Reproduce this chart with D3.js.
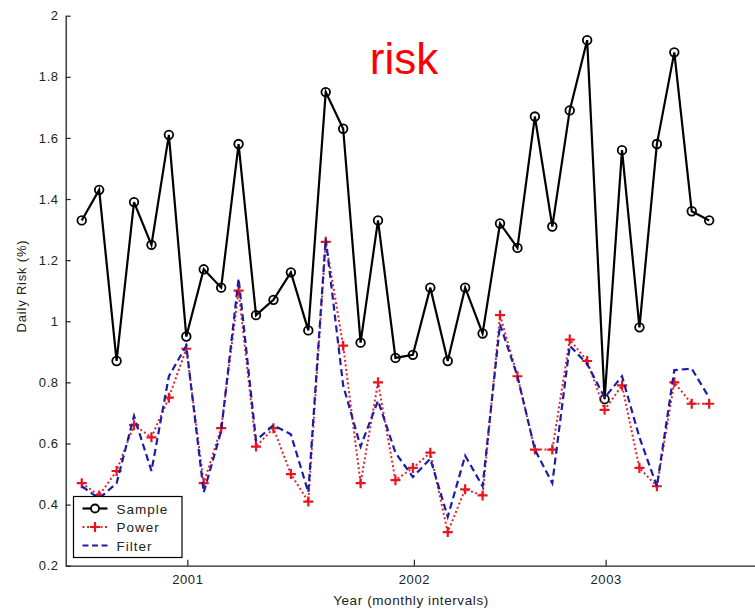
<!DOCTYPE html>
<html>
<head>
<meta charset="utf-8">
<script src="https://cdn.jsdelivr.net/npm/d3@7"></script>
<style>
  body { margin: 0; background: #fff; }
  text { font-family: "Liberation Sans", Arial, sans-serif; }
</style>
</head>
<body>
<div id="chart"></div>
<script>
//Data (one value per month)
var sample = [1.33, 1.43, 0.87, 1.39, 1.25, 1.61, 0.95, 1.17, 1.11, 1.58, 1.02, 1.07, 1.16, 0.97,
              1.75, 1.63, 0.93, 1.33, 0.88, 0.89, 1.11, 0.87, 1.11, 0.96, 1.32, 1.24, 1.67, 1.31,
              1.69, 1.92, 0.745, 1.56, 0.98, 1.58, 1.88, 1.36, 1.33];
var power = [0.47, 0.43, 0.51, 0.66, 0.62, 0.75, 0.91, 0.47, 0.65, 1.10, 0.59, 0.65, 0.50, 0.41,
             1.26, 0.92, 0.47, 0.80, 0.48, 0.52, 0.57, 0.31, 0.45, 0.43, 1.02, 0.82, 0.58, 0.58,
             0.94, 0.87, 0.71, 0.79, 0.52, 0.46, 0.80, 0.73, 0.73];
var filter = [0.46, 0.42, 0.47, 0.69, 0.51, 0.82, 0.92, 0.44, 0.64, 1.14, 0.61, 0.66, 0.63, 0.44,
              1.27, 0.79, 0.59, 0.74, 0.57, 0.49, 0.55, 0.36, 0.56, 0.46, 0.99, 0.82, 0.58, 0.47,
              0.92, 0.86, 0.75, 0.82, 0.62, 0.46, 0.84, 0.845, 0.75];
var yearTicks = [6.06, 19.06, 30.06];
var yearLabels = ["2001", "2002", "2003"];
var yTicks = [0.2, 0.4, 0.6, 0.8, 1, 1.2, 1.4, 1.6, 1.8, 2];
var seriesNames = ["Sample", "Power", "Filter"];

var width = 755, height = 610;
var svg = d3.select("#chart").append("svg")
  .attr("width", width).attr("height", height);

var x = d3.scaleLinear().domain([-0.92, 38.63]).range([65.7, 755]);
var y = d3.scaleLinear().domain([0.2, 2]).range([565.7, 15.7]);

//Axes (ticks point inward like matlab)
var yAxis = d3.axisLeft(y).tickValues(yTicks).tickSizeInner(-5).tickSizeOuter(0)
  .tickPadding(7).tickFormat(d3.format("~g"));
var gy = svg.append("g").attr("transform", "translate(" + x.range()[0] + ",0)").call(yAxis);

var xAxis = d3.axisBottom(x).tickValues(yearTicks).tickSizeInner(-6).tickSizeOuter(0)
  .tickPadding(9).tickFormat(function(d, i) { return yearLabels[i]; });
var gx = svg.append("g").attr("transform", "translate(0," + y.range()[0] + ")").call(xAxis);

[gx, gy].forEach(function(g) {
  g.select(".domain").attr("stroke", "#222").attr("stroke-width", 1.3);
  g.selectAll(".tick line").attr("stroke", "#222").attr("stroke-width", 1.2);
  g.selectAll("text").attr("font-size", 13).attr("fill", "#222")
    .attr("letter-spacing", 0.6)
    .attr("font-family", "Liberation Sans, Arial, sans-serif");
});

//Axis titles
svg.append("text")
  .attr("x", 411).attr("y", 605)
  .attr("text-anchor", "middle").attr("font-size", 13.5).attr("fill", "#222")
  .attr("letter-spacing", 0.6)
  .text("Year (monthly intervals)");
svg.append("text")
  .attr("transform", "translate(26,286) rotate(-90)")
  .attr("text-anchor", "middle").attr("font-size", 13).attr("fill", "#222")
  .attr("letter-spacing", 0.8)
  .text("Daily Risk  (%)");
svg.append("text")
  .attr("x", 404).attr("y", 74)
  .attr("text-anchor", "middle").attr("font-size", 44).attr("fill", "#ff0000")
  .text("risk");

var line = d3.line()
  .x(function(d, i) { return x(i); })
  .y(function(d) { return y(d); });

//Sample
svg.append("path").datum(sample)
  .attr("d", line).attr("fill", "none")
  .attr("stroke", "#000").attr("stroke-width", 2.2);
svg.append("g").selectAll("circle")
  .data(sample).enter().append("circle")
  .attr("cx", function(d, i) { return x(i); })
  .attr("cy", function(d) { return y(d); })
  .attr("r", 4.3)
  .attr("fill", "none").attr("stroke", "#000").attr("stroke-width", 1.8);

//Power
svg.append("path").datum(power)
  .attr("d", line).attr("fill", "none")
  .attr("stroke", "#d8262a").attr("stroke-width", 2)
  .attr("stroke-dasharray", "2,2.5");
svg.append("g").selectAll("path")
  .data(power).enter().append("path")
  .attr("transform", function(d, i) { return "translate(" + x(i) + "," + y(d) + ")"; })
  .attr("d", "M-5,0H5M0,-5V5")
  .attr("stroke", "#e8141e").attr("stroke-width", 2.2);

//Filter
svg.append("path").datum(filter)
  .attr("d", line).attr("fill", "none")
  .attr("stroke", "#1c1ca6").attr("stroke-width", 2.2)
  .attr("stroke-dasharray", "7,4");

//Legend
var lg = svg.append("g").attr("transform", "translate(73.5,496.5)");
lg.append("rect").attr("width", 108.5).attr("height", 61)
  .attr("fill", "#fff").attr("stroke", "#000").attr("stroke-width", 1.2);
var rowY = [12, 30.5, 49];
lg.append("line").attr("x1", 9).attr("x2", 34).attr("y1", rowY[0]).attr("y2", rowY[0])
  .attr("stroke", "#000").attr("stroke-width", 2.2);
lg.append("circle").attr("cx", 21.5).attr("cy", rowY[0]).attr("r", 4)
  .attr("fill", "#fff").attr("stroke", "#000").attr("stroke-width", 1.8);
lg.append("line").attr("x1", 9).attr("x2", 34).attr("y1", rowY[1]).attr("y2", rowY[1])
  .attr("stroke", "#d8262a").attr("stroke-width", 2).attr("stroke-dasharray", "2,2.5");
lg.append("path").attr("transform", "translate(21.5," + rowY[1] + ")")
  .attr("d", "M-5,0H5M0,-5V5").attr("stroke", "#e8141e").attr("stroke-width", 2.2);
lg.append("line").attr("x1", 9).attr("x2", 34).attr("y1", rowY[2]).attr("y2", rowY[2])
  .attr("stroke", "#1c1ca6").attr("stroke-width", 2.2).attr("stroke-dasharray", "6,3.5");
lg.selectAll("text.lab").data(seriesNames).enter().append("text")
  .attr("class", "lab")
  .attr("x", 43).attr("y", function(d, i) { return rowY[i] + 5; })
  .attr("font-size", 13.5).attr("fill", "#222")
  .attr("letter-spacing", 1)
  .text(function(d) { return d; });
</script>
</body>
</html>
